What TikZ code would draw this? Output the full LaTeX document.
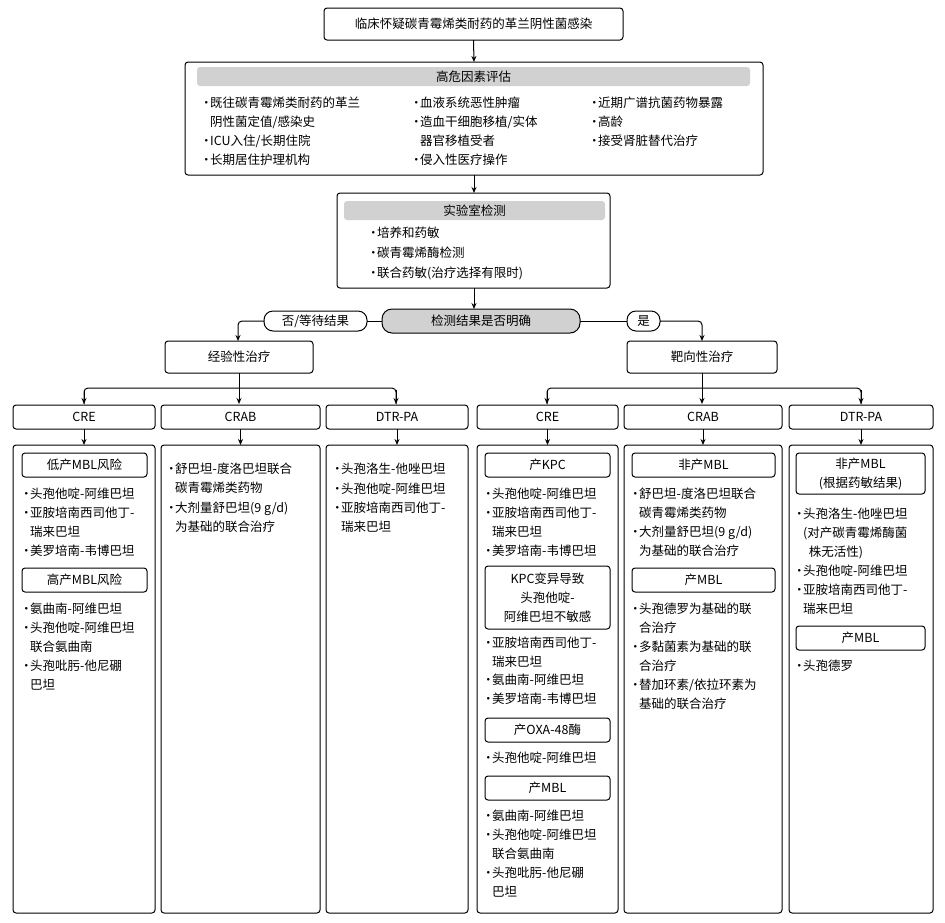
\documentclass[tikz,border=0pt]{standalone}
\usepackage{fontspec}
\setmainfont{Noto Sans CJK SC}
\usetikzlibrary{arrows.meta}
\begin{document}
\fontsize{12.5}{19}\selectfont
\begin{tikzpicture}[x=1pt,y=-1pt,
  box/.style={draw,line width=1pt,rounded corners=3pt},
  hdr/.style={fill=black!18,rounded corners=3pt},
  arr/.style={line width=1pt,-{Stealth[length=6pt,width=5pt]}},
  ln/.style={line width=1pt},
  t/.style={inner sep=0pt,font=\fontsize{12.5}{19}\selectfont},
  itx/.style={t,anchor=north west,align=left},
  bul/.style={t,anchor=north west}]
\useasboundingbox (0,0) rectangle (945,922);
\newcommand\itm[3]{\node[bul] at (#1,#2) {\strut•}; \node[itx] at ({#1+10},#2) {\strut#3};}
% top
\draw[box] (324,8) rectangle (623,40); \node[t] (top) at (473.5,24) {临床怀疑碳青霉烯类耐药的革兰阴性菌感染};
% risk
\draw[box] (185,62) rectangle (763,175); \coordinate (risk) at (474,62); \coordinate (riskb) at (474,175);
\fill[hdr] (197,67) rectangle (750,86); \node[t] at (473.5,76.5) {高危因素评估};
\itm{200}{94}{既往碳青霉烯类耐药的革兰\\阴性菌定值/感染史}
\itm{200}{132}{ICU入住/长期住院}
\itm{200}{151}{长期居住护理机构}
\itm{410}{94}{血液系统恶性肿瘤}
\itm{410}{113}{造血干细胞移植/实体\\器官移植受者}
\itm{410}{151}{侵入性医疗操作}
\itm{588}{94}{近期广谱抗菌药物暴露}
\itm{588}{113}{高龄}
\itm{588}{132}{接受肾脏替代治疗}
% lab
\draw[box] (337,193) rectangle (610,288); \coordinate (lab) at (474,193); \coordinate (labb) at (474,288);
\fill[hdr] (344,201) rectangle (605,220); \node[t] at (474.5,210.5) {实验室检测};
\itm{367}{224}{培养和药敏}
\itm{367}{244}{碳青霉烯酶检测}
\itm{367}{264}{联合药敏(治疗选择有限时)}
% decision
\draw[box,fill=black!18,rounded corners=10pt] (382,309) rectangle (580,333); \node[t] (dec) at (481,321) {检测结果是否明确};
\draw[box,rounded corners=9pt] (264,311) rectangle (367,331); \node[t] (no) at (315.5,321) {否/等待结果};
\draw[box,rounded corners=9pt] (627,311) rectangle (660,331); \node[t] (yes) at (643.5,321) {是};
\draw[arr] (top.south |- 0,40) -- (risk);
\draw[arr] (riskb) -- (lab);
\draw[arr] (labb) -- (474,309);
\draw[ln] (382,321) -- (367,321);
\draw[ln] (580,321) -- (627,321);
\draw[box] (165,341) rectangle (313,373); \node[t] (emp) at (239,357) {经验性治疗};
\draw[box] (627,341) rectangle (777,373); \node[t] (tgt) at (702,357) {靶向性治疗};
\draw[arr,rounded corners=4pt] (264,321) -- (238,321) -- (238,341);
\draw[arr,rounded corners=4pt] (660,321) -- (702,321) -- (702,341);
% branches
\draw[ln] (239,373) -- (239,388);
\draw[ln,rounded corners=4pt] (84,404) -- (84,388) -- (396,388) -- (396,404);
\draw[arr] (84,390) -- (84,404); \draw[arr] (239,388) -- (239,404); \draw[arr] (396,390) -- (396,404);
\draw[ln] (702,373) -- (702,388);
\draw[ln,rounded corners=4pt] (547,404) -- (547,388) -- (861,388) -- (861,404);
\draw[arr] (547,390) -- (547,404); \draw[arr] (702,388) -- (702,404); \draw[arr] (861,390) -- (861,404);
% headers & content boxes
\foreach \a/\b/\l [count=\i] in {13/155/CRE,161/320/CRAB,326/468/DTR-PA,477/618/CRE,624/782/CRAB,789/933/DTR-PA}{
  \draw[box] (\a,405) rectangle (\b,429);
  \node[t] (h\i) at ({(\a+\b)/2},417) {\l};
  \draw[box] (\a,445) rectangle (\b,913);
  \draw[arr] ({(\a+\b)/2},429) -- ({(\a+\b)/2},445);
}
% col1
\draw[box] (22,453) rectangle (147,477); \node[t] at (84.5,465) {低产MBL风险};
\itm{20}{485}{头孢他啶-阿维巴坦}
\itm{20}{504}{亚胺培南西司他丁-\\瑞来巴坦}
\itm{20}{542}{美罗培南-韦博巴坦}
\draw[box] (22,568) rectangle (147,592); \node[t] at (84.5,580) {高产MBL风险};
\itm{20}{600}{氨曲南-阿维巴坦}
\itm{20}{619}{头孢他啶-阿维巴坦\\联合氨曲南}
\itm{20}{657}{头孢吡肟-他尼硼\\巴坦}
% col2
\itm{165}{460}{舒巴坦-度洛巴坦联合\\碳青霉烯类药物}
\itm{165}{499}{大剂量舒巴坦(9 g/d)\\为基础的联合治疗}
% col3
\itm{331}{460}{头孢洛生-他唑巴坦}
\itm{331}{480}{头孢他啶-阿维巴坦}
\itm{331}{499}{亚胺培南西司他丁-\\瑞来巴坦}
% col4
\draw[box] (485,453) rectangle (610,477); \node[t] at (547.5,465) {产KPC};
\itm{482}{485}{头孢他啶-阿维巴坦}
\itm{482}{504}{亚胺培南西司他丁-\\瑞来巴坦}
\itm{482}{542}{美罗培南-韦博巴坦}
\draw[box] (485,566) rectangle (610,629); \node[t,align=center] at (547.5,597.5) {KPC变异导致\\头孢他啶-\\阿维巴坦不敏感};
\itm{482}{634}{亚胺培南西司他丁-\\瑞来巴坦}
\itm{482}{671}{氨曲南-阿维巴坦}
\itm{482}{690}{美罗培南-韦博巴坦}
\draw[box] (485,718) rectangle (610,742); \node[t] at (547.5,730) {产OXA-48酶};
\itm{482}{749}{头孢他啶-阿维巴坦}
\draw[box] (485,776) rectangle (610,800); \node[t] at (547.5,788) {产MBL};
\itm{482}{807}{氨曲南-阿维巴坦}
\itm{482}{826}{头孢他啶-阿维巴坦\\联合氨曲南}
\itm{482}{864}{头孢吡肟-他尼硼\\巴坦}
% col5
\draw[box] (632,453) rectangle (775,477); \node[t] at (703.5,465) {非产MBL};
\itm{629}{485}{舒巴坦-度洛巴坦联合\\碳青霉烯类药物}
\itm{629}{523}{大剂量舒巴坦(9 g/d)\\为基础的联合治疗}
\draw[box] (632,568) rectangle (775,592); \node[t] at (703.5,580) {产MBL};
\itm{629}{600}{头孢德罗为基础的联\\合治疗}
\itm{629}{638}{多黏菌素为基础的联\\合治疗}
\itm{629}{676}{替加环素/依拉环素为\\基础的联合治疗}
% col6
\draw[box] (796,453) rectangle (925,494); \node[t,align=center] at (860.5,473.5) {非产MBL\\(根据药敏结果)};
\itm{793}{505}{头孢洛生-他唑巴坦\\(对产碳青霉烯酶菌\\\ \ 株无活性)}
\itm{793}{562}{头孢他啶-阿维巴坦}
\itm{793}{581}{亚胺培南西司他丁-\\瑞来巴坦}
\draw[box] (796,626) rectangle (925,650); \node[t] at (860.5,638) {产MBL};
\itm{793}{657}{头孢德罗}
\end{tikzpicture}
\end{document}
